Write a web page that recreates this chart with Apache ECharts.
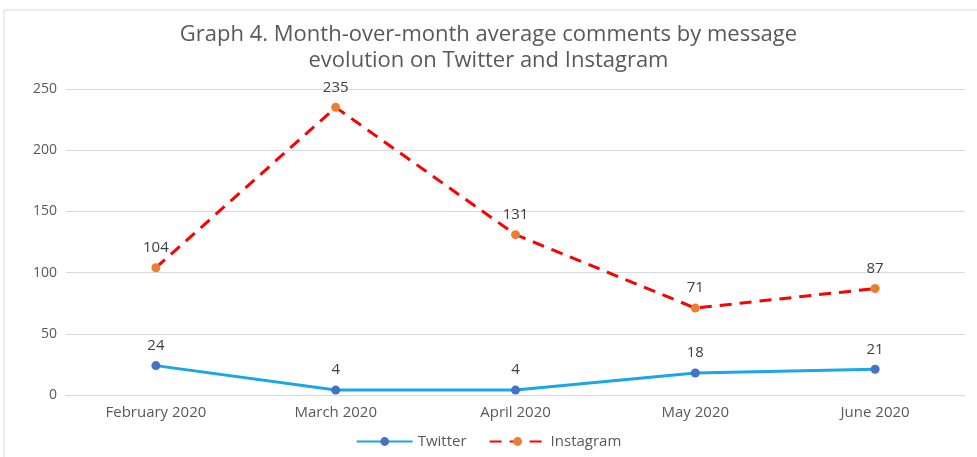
<!DOCTYPE html>
<html><head><meta charset="utf-8">
<script src="https://cdn.jsdelivr.net/npm/echarts@6/dist/echarts.min.js"></script>
<style>html,body{margin:0;padding:0;background:#fff}#c{width:977px;height:457px}</style>
</head><body><div id="c"></div>
<script>
const categories = ['February 2020','March 2020','April 2020','May 2020','June 2020'];
const twitter = [24, 4, 4, 18, 21];
const instagram = [104, 235, 131, 71, 87];
const yTicks = {min:0, max:250, interval:50};

const chart = echarts.init(document.getElementById('c'));
const font = 'Open Sans, Lato, sans-serif';
chart.setOption({
  animation:false,
  textStyle:{fontFamily:font},
  graphic:[{type:'rect',shape:{x:4,y:10,width:990,height:460},style:{fill:'none',stroke:'#d9d9d9',lineWidth:1},silent:true}],
  title:{text:'Graph 4. Month-over-month average comments by message\nevolution on Twitter and Instagram',left:'center',top:17,
    textStyle:{fontFamily:font,fontSize:22,fontWeight:'normal',color:'#595959',lineHeight:26}},
  grid:{left:66,right:12,top:89,bottom:62},
  legend:{bottom:3,left:'center',itemWidth:56,itemHeight:11,itemGap:22,
    textStyle:{fontFamily:font,fontSize:15,color:'#595959'},
    data:['Twitter','Instagram']},
  xAxis:{type:'category',data:categories,boundaryGap:true,
    axisLine:{lineStyle:{color:'#d9d9d9'}},axisTick:{show:false},
    axisLabel:{fontFamily:font,fontSize:15,color:'#595959',margin:10}},
  yAxis:{type:'value',min:yTicks.min,max:yTicks.max,interval:yTicks.interval,
    axisLine:{show:false},axisTick:{show:false},
    splitLine:{lineStyle:{color:'#d9d9d9'}},
    axisLabel:{fontFamily:font,fontSize:14,color:'#595959',margin:9}},
  series:[
    {name:'Twitter',type:'line',data:twitter,symbol:'circle',symbolSize:9,
      lineStyle:{color:'#1aa7e6',width:3},itemStyle:{color:'#4472c4'},
      label:{show:true,position:'top',distance:8,fontFamily:font,fontSize:15,color:'#404040'}},
    {name:'Instagram',type:'line',data:instagram,symbol:'circle',symbolSize:9,
      lineStyle:{color:'#ff0000',width:3,type:[12,8]},itemStyle:{color:'#ed7d31'},
      label:{show:true,position:'top',distance:8,fontFamily:font,fontSize:15,color:'#404040'}}
  ]
});
</script></body></html>
